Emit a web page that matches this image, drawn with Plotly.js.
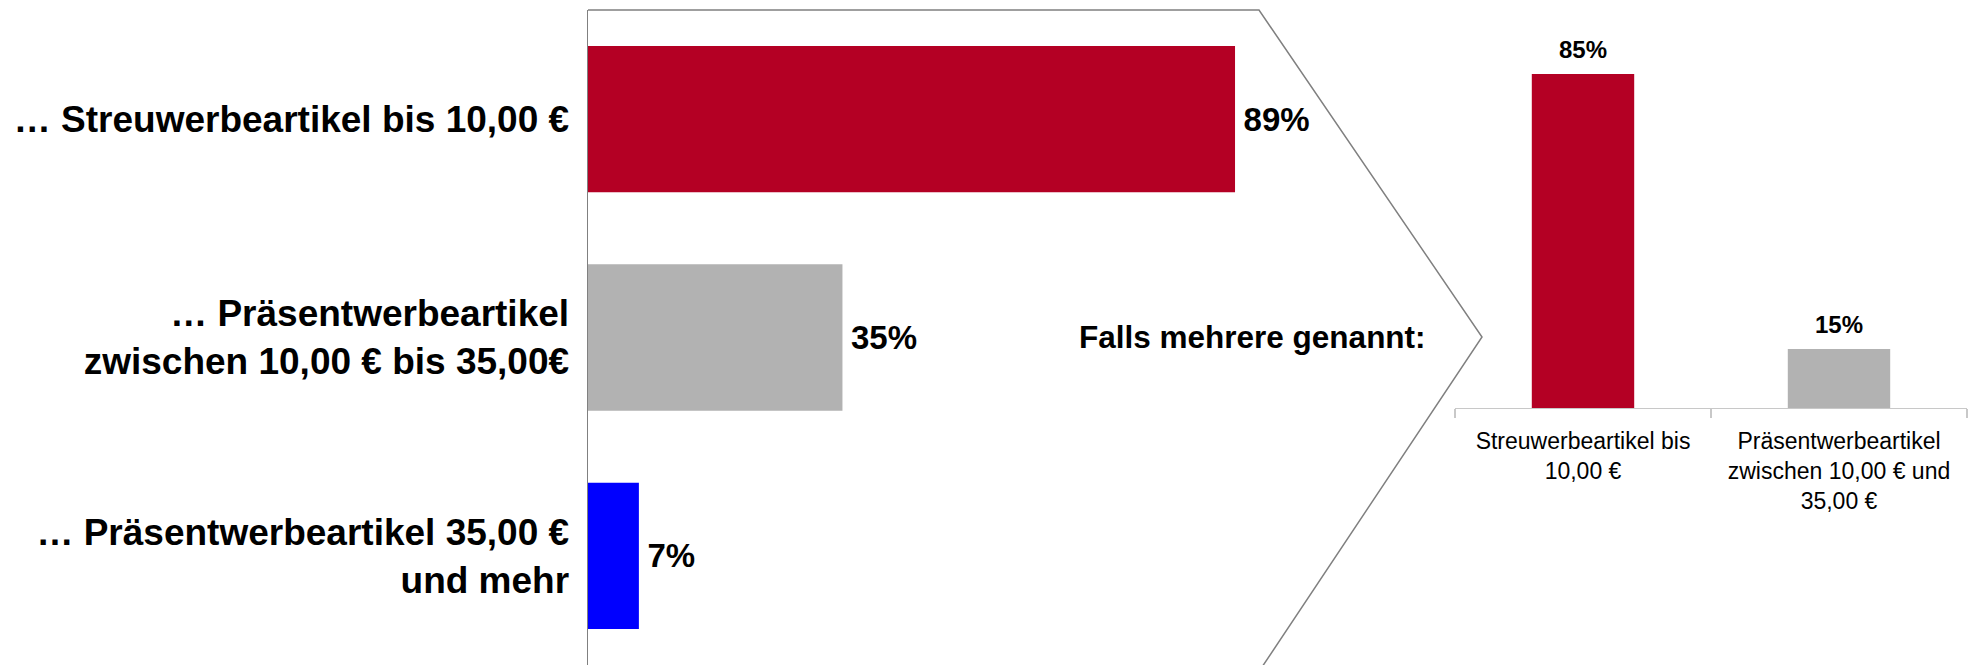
<!DOCTYPE html>
<html>
<head>
<meta charset="utf-8">
<script src="https://cdn.plot.ly/plotly-3.0.1.min.js"></script>
<style>html,body{margin:0;padding:0;background:#fff;}#chart{width:1974px;height:665px;}</style>
</head>
<body>
<div id="chart"></div>
<script>
// ---- data ----
const leftCategories = [
  "… Streuwerbeartikel bis 10,00 €",
  "… Präsentwerbeartikel<br>zwischen 10,00 € bis 35,00€",
  "… Präsentwerbeartikel 35,00 €<br>und mehr"
];
const leftValues = [89, 35, 7];

const rightCategories = [
  "Streuwerbeartikel bis<br>10,00 €",
  "Präsentwerbeartikel<br>zwischen 10,00 € und<br>35,00 €"
];
const rightValues = [85, 15];

const calloutText = "Falls mehrere genannt:";

// ---- styles ----
const RED = "#B40024", GRAY = "#B2B2B2", BLUE = "#0000FF";
const leftColors = [RED, GRAY, BLUE];
const rightColors = [RED, GRAY];
const FONT = "Liberation Sans, Arial, sans-serif";

const traces = [
  {
    type: "bar", orientation: "h",
    x: leftValues, y: leftCategories,
    xaxis: "x", yaxis: "y",
    marker: {color: leftColors},
    width: 0.67,
    texttemplate: "<span style='font-size:20px'>\u00a0</span>%{x}%", textposition: "outside",
    textfont: {family: FONT, size: 33, color: "#000", weight: "bold"},
    constraintext: "none", cliponaxis: false, hoverinfo: "skip"
  },
  {
    type: "bar",
    x: rightCategories, y: rightValues,
    xaxis: "x2", yaxis: "y2",
    marker: {color: rightColors},
    width: 0.4,
    hoverinfo: "skip"
  },
  {
    type: "scatter", mode: "markers+text",
    x: rightCategories, y: rightValues,
    xaxis: "x2", yaxis: "y2",
    marker: {size: 14, opacity: 0},
    text: rightValues.map(v => v + "%"),
    textposition: "top center",
    textfont: {family: FONT, size: 24, color: "#000", weight: "bold"},
    cliponaxis: false, hoverinfo: "skip"
  }
];

const xL0 = 588/1974, xL1 = (588+727)/1974;
const layout = {
  width: 1974, height: 665,
  margin: {l: 0, r: 0, t: 10, b: 0},
  paper_bgcolor: "#fff", plot_bgcolor: "rgba(0,0,0,0)",
  showlegend: false,
  font: {family: FONT, color: "#000"},
  xaxis: {domain: [xL0, xL1], range: [0, 100], visible: false, fixedrange: true},
  yaxis: {
    domain: [0, 1], type: "category", categoryorder: "array", categoryarray: leftCategories,
    range: [2.5, -0.5], showline: true, linecolor: "#808080", linewidth: 1.5,
    showgrid: false, zeroline: false, ticks: "", ticklabelstandoff: 10,
    tickfont: {family: FONT, size: 37, color: "#000", weight: "bold"}, fixedrange: true
  },
  xaxis2: {
    domain: [1455/1974, 1967/1974], anchor: "y2", type: "category",
    range: [-0.5, 1.5], showline: true, linecolor: "#C8C8C8", linewidth: 1.2,
    ticks: "outside", tickson: "boundaries", ticklen: 9, tickcolor: "#C8C8C8", tickwidth: 1.2,
    showgrid: false, zeroline: false, ticklabelstandoff: 12,
    tickfont: {family: FONT, size: 23, color: "#000"}, fixedrange: true
  },
  yaxis2: {
    domain: [(665-408)/655, (665-15)/655], anchor: "x2", range: [0, 100],
    visible: false, fixedrange: true
  },
  shapes: [
    {
      type: "path", xref: "paper", yref: "paper",
      path: "M " + xL0 + ",1 L " + (1259/1974) + ",1 L " + (1482/1974) + "," + ((665-337)/655) + " L " + (1259/1974) + ",-0.01",
      line: {color: "#808080", width: 1.5}
    }
  ],
  annotations: [
    {
      xref: "paper", yref: "paper", x: 1077/1974, y: (665-337)/655,
      xanchor: "left", yanchor: "middle", showarrow: false,
      text: calloutText,
      font: {family: FONT, size: 31.5, color: "#000", weight: "bold"}
    }
  ]
};

Plotly.newPlot("chart", traces, layout, {staticPlot: true, displayModeBar: false});
</script>
</body>
</html>
